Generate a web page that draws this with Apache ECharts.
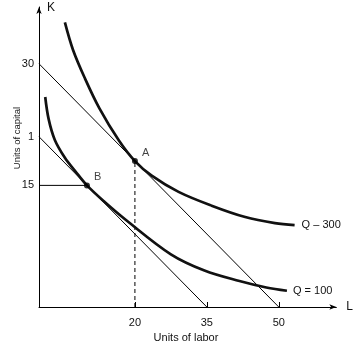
<!DOCTYPE html>
<html>
<head>
<meta charset="utf-8">
<script src="https://cdn.jsdelivr.net/npm/echarts@6/dist/echarts.min.js"></script>
<style>html,body{margin:0;padding:0;background:#fff}#c{width:356px;height:350px}</style>
</head>
<body>
<div id="c"></div>
<script>
// Axis ticks
const lTicks = [20, 35, 50];
const kTicks = [15, 21, 30];
const kTickLabels = ['15', '1', '30'];

// Budget (isocost) lines: [L, K]
const isocostHigh = [[0, 30], [50, 0]];
const isocostLow = [[0, 21], [35, 0]];

// Tangency points
const pointA = [20, 18];
const pointB = [10, 15];

// Isoquants
const q300 = [[5.4, 35.1], [7.1, 31.7], [9.5, 28.3], [12.6, 24.5], [16.7, 20.5], [20, 18], [23.5, 16.2], [29.1, 14.2], [36, 12.5], [43, 11.1], [49.2, 10.35], [53.3, 10.1]];
const q100 = [[1.3, 25.9], [2.0, 23.2], [3.3, 20.6], [5.4, 18.4], [7.5, 16.8], [10, 15], [13.7, 12.95], [18.2, 10.7], [27.5, 6.5], [34.5, 4.5], [41.8, 3.2], [47.4, 2.4], [51.7, 2.0]];

const FONT = 'Liberation Sans, Arial, sans-serif';
const chart = echarts.init(document.getElementById('c'), null, {renderer: 'canvas'});
chart.setOption({
  animation: false,
  backgroundColor: '#fff',
  textStyle: {fontFamily: FONT},
  grid: {left: 39, right: 17, top: 7, bottom: 43},
  xAxis: {
    type: 'value', min: 0, max: 62,
    name: 'L', nameGap: 10,
    nameTextStyle: {fontFamily: FONT, fontSize: 12, color: '#111'},
    splitLine: {show: false},
    axisLine: {lineStyle: {color: '#000', width: 1}, symbol: ['none', 'arrow'], symbolSize: [4, 7]},
    axisTick: {show: true, inside: true, length: 5, customValues: lTicks, lineStyle: {color: '#000'}},
    axisLabel: {customValues: lTicks, margin: 10, fontFamily: FONT, fontSize: 11, color: '#111'}
  },
  yAxis: {
    type: 'value', min: 0, max: 37,
    name: 'K', nameGap: -1,
    nameTextStyle: {fontFamily: FONT, fontSize: 12, color: '#111', align: 'left', verticalAlign: 'middle', padding: [0, 0, 0, 8]},
    splitLine: {show: false},
    axisLine: {lineStyle: {color: '#000', width: 1}, symbol: ['none', 'arrow'], symbolSize: [4, 7]},
    axisTick: {show: false},
    axisLabel: {
      customValues: kTicks, margin: 5, fontFamily: FONT, fontSize: 11, color: '#111',
      formatter: function (v) { const i = kTicks.indexOf(v); return i >= 0 ? kTickLabels[i] : ''; }
    }
  },
  graphic: [
    {type: 'text', x: 186, y: 338, style: {text: 'Units of labor', font: '11px ' + FONT, fill: '#111', align: 'center', verticalAlign: 'middle'}},
    {type: 'text', x: 17, y: 138, rotation: Math.PI / 2, style: {text: 'Units of capital', font: '9.5px ' + FONT, fill: '#111', align: 'center', verticalAlign: 'middle'}}
  ],
  series: [
    {type: 'line', data: isocostHigh, symbol: 'none', lineStyle: {color: '#000', width: 1}, z: 2},
    {type: 'line', data: isocostLow, symbol: 'none', lineStyle: {color: '#000', width: 1}, z: 2},
    {type: 'line', data: [[pointA[0], 0], pointA], symbol: 'none', lineStyle: {color: '#000', width: 1, type: [4, 3]}, z: 2},
    {type: 'line', data: [[0, pointB[1]], pointB], symbol: 'none', lineStyle: {color: '#000', width: 1}, z: 2},
    {type: 'line', data: q300, symbol: 'none', smooth: 0.35, lineStyle: {color: '#111', width: 2.7}, z: 3,
      endLabel: {show: true, formatter: 'Q – 300', distance: 7, fontFamily: FONT, fontSize: 11, color: '#111'}},
    {type: 'line', data: q100, symbol: 'none', smooth: 0.35, lineStyle: {color: '#111', width: 2.7}, z: 3,
      endLabel: {show: true, formatter: 'Q = 100', distance: 6, fontFamily: FONT, fontSize: 11, color: '#111'}},
    {type: 'scatter', data: [pointA], symbolSize: 6, itemStyle: {color: '#000'}, z: 4,
      label: {show: true, formatter: 'A', position: 'right', distance: 4, offset: [0, -8], fontFamily: FONT, fontSize: 11, color: '#111'}},
    {type: 'scatter', data: [pointB], symbolSize: 6, itemStyle: {color: '#000'}, z: 4,
      label: {show: true, formatter: 'B', position: 'right', distance: 4, offset: [0, -8], fontFamily: FONT, fontSize: 11, color: '#111'}}
  ]
});
</script>
</body>
</html>
